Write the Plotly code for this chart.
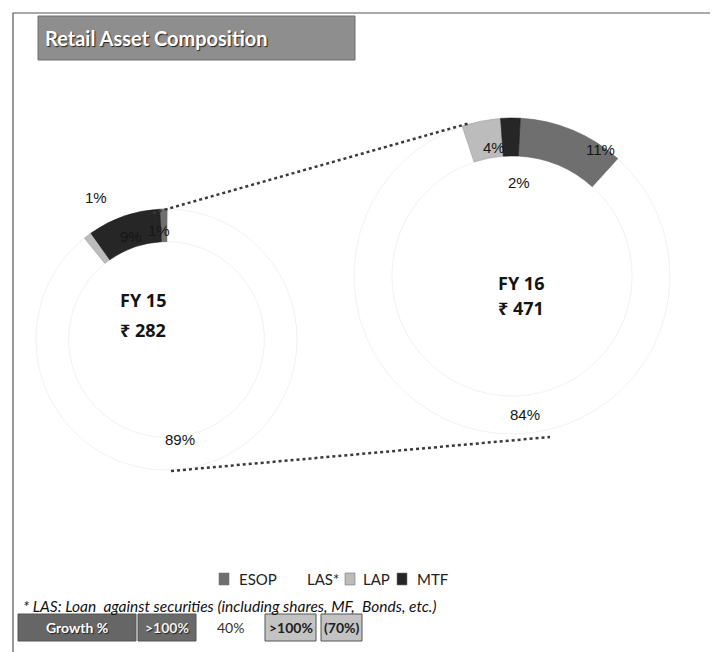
import plotly.graph_objects as go

# ---------------- data ----------------
segments = ["ESOP", "LAS*", "LAP", "MTF"]
fy15_share = [1, 89, 1, 9]
fy16_share = [11, 84, 4, 2]
years = ["FY 15", "FY 16"]
totals = ["₹ 282", "₹ 471"]
growth_labels = ["Growth %", ">100%", "40%", ">100%", "(70%)"]
footnote = "* LAS: Loan  against securities (including shares, MF,  Bonds, etc.)"
title = "Retail Asset Composition"

# ---------------- styling / layout ----------------
W, H = 718, 652
def px(x):
    return x / W
def py(y):
    return 1 - y / H

seg_colors = ["#6f6f6f", "#ffffff", "#bcbcbc", "#262626"]
seg_lines = ["#5a5a5a", "#eeeeee", "#a0a0a0", "#1a1a1a"]

fig = go.Figure()

# donut boxes in pixels (left, top, right, bottom)
donut_boxes = [(28, 201, 289, 462), (346, 110, 662, 426)]
donut_rot = [-3, 3]
donut_hole = [0.75, 0.76]
shares = [fy15_share, fy16_share]

for i, (shr, box) in enumerate(zip(shares, donut_boxes)):
    l, t, r, b = box
    fig.add_trace(go.Pie(
        labels=segments, values=shr, hole=donut_hole[i],
        sort=False, direction="clockwise", rotation=donut_rot[i],
        marker=dict(colors=seg_colors, line=dict(color=seg_lines, width=[0.6, 0.8, 0.6, 0.6])),
        textinfo="none", hoverinfo="label+percent",
        domain=dict(x=[px(l), px(r)], y=[py(b), py(t)]),
        showlegend=False, name=years[i],
    ))

annotations = []
shapes = []

# slice labels (positions in px), order: ESOP, LAS, LAP, MTF
label_pos = [
    [(151, 222), (172, 431), (88, 189), (123, 228)],
    [(592, 142), (517, 407), (486, 139), (511, 174)],
]
for shr, pos in zip(shares, label_pos):
    for v, (x, y) in zip(shr, pos):
        annotations.append(dict(
            x=px(x), y=py(y), xref="paper", yref="paper", showarrow=False,
            text=f"{v}%", font=dict(family="Liberation Sans", size=15, color="#151515"),
            xanchor="center", yanchor="middle"))

# year / total labels
year_pos = [((135, 292), (135, 322)), ((513, 275), (513, 300))]
for yr, tot, ((x1, y1), (x2, y2)) in zip(years, totals, year_pos):
    for txt, x, y in ((yr, x1, y1), (tot, x2, y2)):
        annotations.append(dict(
            x=px(x), y=py(y), xref="paper", yref="paper", showarrow=False,
            text=f"<b>{txt}</b>", font=dict(family="Noto Sans", size=18, color="#141414"),
            xanchor="center", yanchor="middle"))

# connector dotted lines
for (x0, y0, x1, y1) in [(145, 205, 462, 115), (163, 463, 542, 429)]:
    shapes.append(dict(type="line", xref="paper", yref="paper",
                       x0=px(x0), y0=py(y0), x1=px(x1), y1=py(y1),
                       line=dict(color="#3a3a3a", width=2.5, dash="dot")))

# outer frame
shapes.append(dict(type="rect", xref="paper", yref="paper",
                   x0=px(5), y0=py(700), x1=px(706), y1=py(5),
                   line=dict(color="#555555", width=1.2), fillcolor="rgba(0,0,0,0)"))

# title box
shapes.append(dict(type="rect", xref="paper", yref="paper",
                   x0=px(30), y0=py(52), x1=px(347), y1=py(8),
                   line=dict(color="#6e6e6e", width=1), fillcolor="#8e8e8e", layer="below"))
annotations.append(dict(
    x=px(35), y=py(30), xref="paper", yref="paper", showarrow=False,
    text=f"<b>{title}</b>", xanchor="left", yanchor="middle",
    font=dict(family="Lato", size=20, color="#ffffff", shadow="1px 1px 1px #222222")))

# manual legend (symbols + names)
legend_sym_x = [211, None, 337, 389]
legend_txt_x = [229, 297, 353, 407]
leg_y = 571
for name, col, sx, tx in zip(segments, seg_colors, legend_sym_x, legend_txt_x):
    if sx is not None:
        shapes.append(dict(type="rect", xref="paper", yref="paper",
                           x0=px(sx), y0=py(leg_y + 6), x1=px(sx + 10), y1=py(leg_y - 6),
                           line=dict(color="#777777", width=0.6), fillcolor=col))
    annotations.append(dict(
        x=px(tx), y=py(leg_y), xref="paper", yref="paper", showarrow=False,
        text=name, xanchor="left", yanchor="middle",
        font=dict(family="Lato", size=15, color="#222222")))

# footnote
annotations.append(dict(
    x=px(13), y=py(598), xref="paper", yref="paper", showarrow=False,
    text=footnote, xanchor="left", yanchor="middle",
    font=dict(family="Lato", size=15.5, color="#111111", style="italic")))

# growth row
growth_style = [
    dict(box=(10, 128), fill="#666666", color="#ffffff", bold=True),
    dict(box=(130, 188), fill="#6a6a6a", color="#f0f0f0", bold=True),
    dict(box=(204, 242), fill=None, color="#333333", bold=False),
    dict(box=(257, 308), fill="#c3c3c3", color="#202020", bold=True),
    dict(box=(313, 354), fill="#c3c3c3", color="#202020", bold=True),
]
gy0, gy1 = 606, 633
for txt, st in zip(growth_labels, growth_style):
    x0, x1 = st["box"]
    if st["fill"]:
        shapes.append(dict(type="rect", xref="paper", yref="paper",
                           x0=px(x0), y0=py(gy1), x1=px(x1), y1=py(gy0),
                           line=dict(color="#555555", width=1), fillcolor=st["fill"], layer="below"))
    annotations.append(dict(
        x=px((x0 + x1) / 2), y=py((gy0 + gy1) / 2), xref="paper", yref="paper", showarrow=False,
        text=(f"<b>{txt}</b>" if st["bold"] else txt), xanchor="center", yanchor="middle",
        font=dict(family="Lato", size=14, color=st["color"],
                  shadow=("1px 1px 1px #222222" if st["color"].startswith("#f") else "none"))))

fig.update_layout(
    width=W, height=H, margin=dict(l=0, r=0, t=0, b=0),
    paper_bgcolor="#ffffff", plot_bgcolor="#ffffff",
    showlegend=False,
    annotations=annotations, shapes=shapes,
)

fig.write_html("out.html")
